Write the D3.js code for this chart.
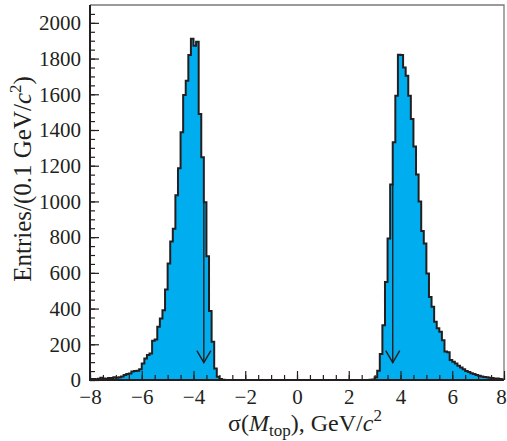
<!DOCTYPE html>
<html>
<head>
<meta charset="utf-8">
<script src="https://cdn.jsdelivr.net/npm/d3@7"></script>
<style>
body { margin: 0; background: #fff; }
svg text { font-family: "Liberation Serif", "DejaVu Serif", serif; fill: #231f20; }
</style>
</head>
<body>
<script>
//histogram of sigma(M_top), bins of 0.1 GeV/c2 from -8 to 8

//bin lower edges (categories)
var binLow = d3.range(160).map(function(i){ return -8 + i / 10; });

//entries per bin
var counts = [
    5, 6, 4, 7, 13, 9, 7, 11, 11, 15,
    13, 15, 19, 28, 33, 37, 47, 50, 52, 60,
    93, 121, 140, 149, 220, 227, 298, 345, 391, 507,
    652, 776, 847, 1034, 1186, 1387, 1596, 1676, 1820, 1911,
    1872, 1894, 1490, 1248, 996, 693, 387, 214, 65, 18,
    5, 1, 0, 0, 0, 0, 0, 0, 0, 0,
    0, 0, 0, 0, 0, 0, 0, 0, 0, 0,
    0, 0, 0, 0, 0, 0, 0, 0, 0, 0,
    0, 0, 0, 0, 0, 0, 0, 0, 0, 0,
    0, 0, 0, 0, 0, 0, 0, 0, 0, 0,
    0, 0, 0, 0, 0, 0, 0, 0, 1, 3,
    15, 52, 145, 307, 549, 792, 1095, 1331, 1592, 1822,
    1820, 1750, 1704, 1592, 1462, 1307, 1151, 1000, 834, 764,
    596, 465, 410, 326, 290, 270, 223, 160, 155, 112,
    102, 93, 80, 70, 60, 50, 45, 38, 33, 28,
    24, 20, 17, 15, 13, 11, 9, 8, 6, 4
];

//arrows marking the cut values
var arrowX = [-3.6, 3.7];
var arrowFrom = [1000, 1100];
var arrowTo = [97, 97];

//tick labels
var xTicks = [-8, -6, -4, -2, 0, 2, 4, 6, 8];
var xMinor = d3.range(-8, 8.01, 0.5);
var yTicks = [0, 200, 400, 600, 800, 1000, 1200, 1400, 1600, 1800, 2000];
var yMinor = d3.range(0, 2100, 50);

var width = 507, height = 441;
var plotLeft = 90, plotRight = 504, plotTop = 5, plotBottom = 380;
var ink = "#231f20";

var svg = d3.select("body")
    .append("svg")
    .attr("width", width)
    .attr("height", height);

var x = d3.scaleLinear().domain([-8, 8]).range([plotLeft, plotRight]);
var y = d3.scaleLinear().domain([0, 2100]).range([plotBottom, plotTop]);

//step points, last one closes the final bin
var pts = binLow.map(function(b, i){ return [b, counts[i]]; });
pts.push([8, counts[counts.length - 1]]);

var area = d3.area()
    .curve(d3.curveStepAfter)
    .x(function(d){ return x(d[0]); })
    .y0(y(0))
    .y1(function(d){ return y(d[1]); });

var line = d3.line()
    .curve(d3.curveStepAfter)
    .x(function(d){ return x(d[0]); })
    .y(function(d){ return y(d[1]); });

svg.append("path")
    .datum(pts)
    .attr("d", area)
    .attr("fill", "#00aeef");

svg.append("path")
    .datum(pts)
    .attr("d", line)
    .attr("fill", "none")
    .attr("stroke", ink)
    .attr("stroke-width", 2)
    .attr("stroke-linejoin", "miter");

//arrows
arrowX.forEach(function(v, i){
    var ax = x(v), tip = y(arrowTo[i]);
    svg.append("line")
        .attr("x1", ax).attr("x2", ax)
        .attr("y1", y(arrowFrom[i])).attr("y2", tip)
        .attr("stroke", ink)
        .attr("stroke-width", 1.4);
    svg.append("path")
        .attr("d", "M" + (ax - 7) + "," + (tip - 12) + "L" + ax + "," + tip + "L" + (ax + 7) + "," + (tip - 12))
        .attr("fill", "none")
        .attr("stroke", ink)
        .attr("stroke-width", 1.4);
});

//frame top and right
svg.append("path")
    .attr("d", "M" + plotLeft + "," + plotTop + "H" + plotRight + "V" + plotBottom)
    .attr("fill", "none")
    .attr("stroke", "#7a7a7a")
    .attr("stroke-width", 1.3);

//x axis: minor ticks then major with labels
var gxMinor = svg.append("g")
    .attr("transform", "translate(0," + plotBottom + ")")
    .call(d3.axisBottom(x).tickValues(xMinor).tickSize(-5).tickFormat(""));
var gx = svg.append("g")
    .attr("transform", "translate(0," + plotBottom + ")")
    .call(d3.axisBottom(x).tickValues(xTicks).tickSize(-9).tickPadding(9));

var gyMinor = svg.append("g")
    .attr("transform", "translate(" + plotLeft + ",0)")
    .call(d3.axisLeft(y).tickValues(yMinor).tickSize(-5).tickFormat(""));
var gy = svg.append("g")
    .attr("transform", "translate(" + plotLeft + ",0)")
    .call(d3.axisLeft(y).tickValues(yTicks).tickSize(-9).tickPadding(9).tickFormat(d3.format("d")));

[gxMinor, gx, gyMinor, gy].forEach(function(g){
    g.select(".domain").remove();
    g.selectAll(".tick line").attr("stroke", ink).attr("stroke-width", 1.2);
    g.selectAll(".tick text").attr("font-size", 21).attr("font-family", null).style("fill", ink);
});

//last x label sits against the page edge
gx.selectAll(".tick text").filter(function(d){ return d === 8; }).attr("dx", -3);

//axis lines left and bottom
svg.append("path")
    .attr("d", "M" + plotLeft + "," + plotTop + "V" + plotBottom + "H" + plotRight)
    .attr("fill", "none")
    .attr("stroke", ink)
    .attr("stroke-width", 2);

//x axis title
var xt = svg.append("text")
    .attr("x", 305)
    .attr("y", 431)
    .attr("text-anchor", "middle")
    .attr("font-size", 24);
xt.append("tspan").text("σ(");
xt.append("tspan").attr("font-style", "italic").text("M");
xt.append("tspan").attr("font-size", 17).attr("dy", 5).text("top");
xt.append("tspan").attr("dy", -5).text("), GeV/");
xt.append("tspan").attr("font-style", "italic").text("c");
xt.append("tspan").attr("font-size", 17).attr("dy", -10).text("2");

//y axis title
var yt = svg.append("text")
    .attr("transform", "translate(31,179) rotate(-90)")
    .attr("text-anchor", "middle")
    .attr("font-size", 25);
yt.append("tspan").text("Entries/(0.1 GeV/");
yt.append("tspan").attr("font-style", "italic").text("c");
yt.append("tspan").attr("font-size", 17).attr("dy", -10).text("2");
yt.append("tspan").attr("dy", 10).text(")");
</script>
</body>
</html>
